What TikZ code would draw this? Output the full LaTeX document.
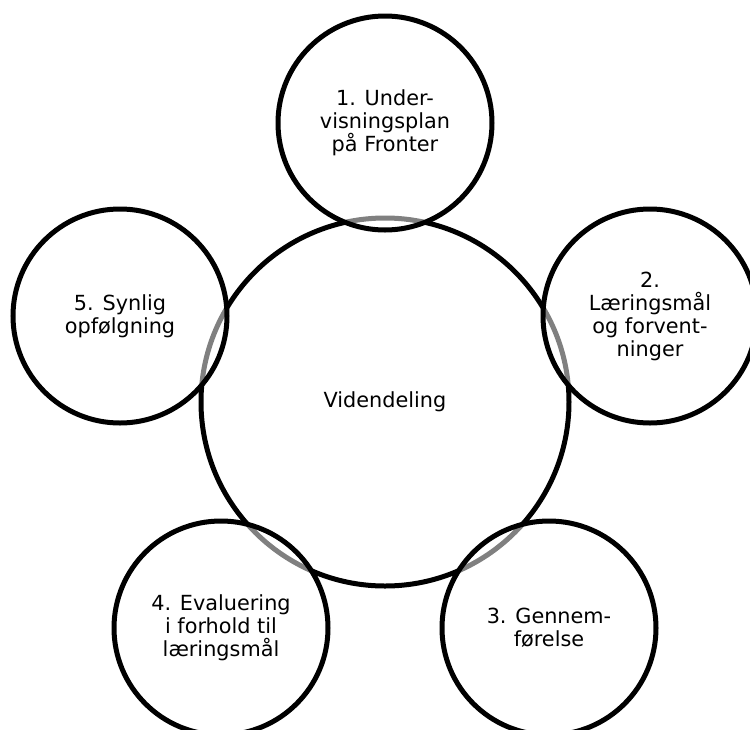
\documentclass[tikz,border=0pt]{standalone}
\usepackage{fontspec}
\setmainfont{DejaVu Sans}
\begin{document}
\begin{tikzpicture}[x=1pt,y=-1pt,
  txt/.style={font=\fontsize{20.8}{23}\selectfont, align=center, text=black},
  hub/.style={circle, draw=black, line width=5pt, minimum size=368pt, inner sep=0pt, txt},
  petal/.style={circle, draw=black, line width=5pt, fill=white, fill opacity=0.5, text opacity=1, draw opacity=1, minimum size=214pt, inner sep=0pt, txt}]
\clip (0,0) rectangle (750,729);
\fill[white] (0,0) rectangle (750,729);
\node[hub] (c) at (385,402) {Videndeling};
\node[petal] (p1) at (385,123) {1. Under-\\visningsplan\\på Fronter};
\node[petal] (p2) at (650,316) {2.\\Læringsmål\\og forvent-\\ninger};
\node[petal] (p3) at (549,628) {3. Gennem-\\førelse};
\node[petal] (p4) at (221,628) {4. Evaluering\\i forhold til\\læringsmål};
\node[petal] (p5) at (120,316) {5. Synlig\\opfølgning};
\end{tikzpicture}
\end{document}
